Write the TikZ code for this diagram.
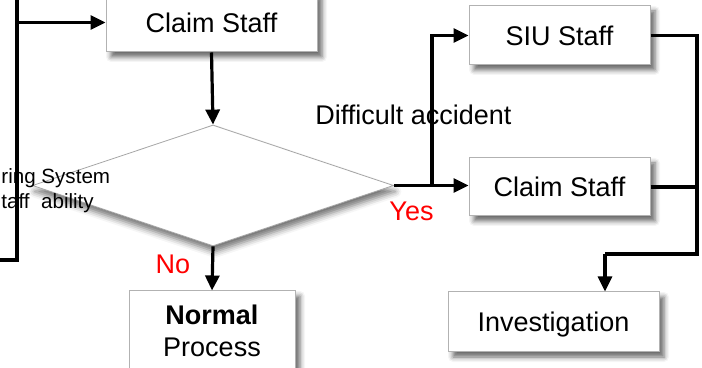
\documentclass[tikz,border=0pt]{standalone}
\usepackage{fontspec}
\setmainfont{Liberation Sans}
\usetikzlibrary{shapes.geometric,shadows.blur,arrows.meta}
\begin{document}
\begin{tikzpicture}[x=0.5pt,y=-0.5pt,
  every node/.style={font=\fontsize{13.5}{16}\selectfont},
  box/.style={draw=black!30, line width=0.5pt, fill=white, inner sep=0pt,
    text depth=0pt,
    blur shadow={shadow xshift=2.5pt, shadow yshift=-2.5pt, shadow blur radius=2.5pt, shadow opacity=60}},
  decision/.style={diamond, draw=black!35, line width=0.4pt, fill=white, inner sep=0pt,
    blur shadow={shadow xshift=1pt, shadow yshift=-3pt, shadow blur radius=3pt, shadow opacity=55}},
  flow/.style={line width=1.6pt, -{Triangle[length=7.5pt,width=7pt]}},
  link/.style={line width=1.6pt},
  answer/.style={text=red},
  note/.style={font=\fontsize{10.3}{12.4}\selectfont}]
\useasboundingbox (0,0) rectangle (702,368);
\clip (0,0) rectangle (702,368);

% process boxes
\node[box, minimum width=105.5pt, minimum height=29.5pt] (claimA) at (211.5,22.5) {Claim Staff};
\node[box, minimum width=90.5pt, minimum height=29.5pt] (siu) at (559.5,35.5) {SIU Staff};
\node[box, minimum width=90.5pt, minimum height=29pt] (claimB) at (559.5,187) {Claim Staff};
\node[box, minimum width=105.5pt, minimum height=30pt] (invest) at (553.5,322) {Investigation};
\node[box, minimum width=83pt, minimum height=40pt] (normal) at (212,331) {};
\node[align=center, inner sep=0pt] (normaltext) at (212,331) {\textbf{Normal}\\[0pt]Process};

% decision
\node[decision, minimum width=180.5pt, minimum height=60.5pt] (dia) at (213,185.5) {};
\node[note, anchor=base west, inner sep=0pt] (condA) at (1,184) {ring System};
\node[note, anchor=base west, inner sep=0pt] (condB) at (1,208.5) {taff\ \ ability};

% feedback line on the left
\coordinate (topL) at (17,-10);
\coordinate (cornerL) at (17,260);
\coordinate (endL) at (-10,260);
\draw[link] (endL) -- (cornerL) -- (topL);
\draw[flow] (claimA.west -| topL) -- (claimA.west);

% main flow
\draw[flow] (claimA.south) -- (dia.north);
\draw[flow] (dia.south) -- (normal.north);
\node[answer, anchor=base, inner sep=0pt] (no) at (173,274) {No};

% yes branch
\coordinate (split) at (432,185.5);
\draw[flow] (dia.east) -- (claimB.west |- dia.east);
\draw[flow] (split) |- (siu.west);
\node[answer, anchor=base, inner sep=0pt] (yes) at (411.5,221) {Yes};
\node[anchor=base, inner sep=0pt] (difficult) at (413.5,125) {Difficult accident};

% merge into investigation
\coordinate (mergeR) at (697,254);
\coordinate (dropI) at (605,254);
\draw[link] (siu.east) -| (mergeR) -- (dropI);
\draw[link] (claimB.east) -- (claimB.east -| mergeR);
\draw[flow] (dropI) -- (dropI |- invest.north);
\end{tikzpicture}
\end{document}
